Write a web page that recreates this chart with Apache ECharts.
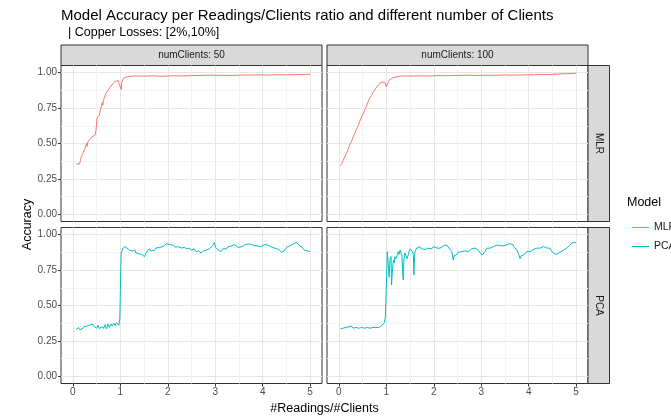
<!DOCTYPE html>
<html>
<head>
<meta charset="utf-8">
<script src="https://cdn.jsdelivr.net/npm/echarts@6/dist/echarts.min.js"></script>
<style>
    html, body { margin: 0; padding: 0; background: #fff; }
    #chart { width: 671px; height: 417px; }
</style>
</head>
<body>
<div id="chart"></div>
<script>
// facets
var colLabels = ["numClients: 50", "numClients: 100"];
var rowLabels = ["MLR", "PCA"];
var xTicks = [0, 1, 2, 3, 4, 5];
var yTicks = [0, 0.25, 0.5, 0.75, 1];

// [readings/clients, accuracy]
var mlr50 = [
    [0.07,0.356],[0.14,0.356],[0.16,0.38],[0.18,0.41],[0.21,0.43],[0.245,0.457],[0.27,0.47],[0.29,0.50],[0.30,0.48],
    [0.316,0.51],[0.35,0.527],[0.38,0.535],[0.42,0.55],[0.45,0.555],[0.47,0.56],[0.49,0.60],[0.51,0.68],[0.54,0.69],
    [0.56,0.70],[0.58,0.74],[0.6,0.76],[0.62,0.79],[0.63,0.77],[0.65,0.81],[0.67,0.83],[0.70,0.855],[0.73,0.87],
    [0.77,0.89],[0.80,0.90],[0.84,0.92],[0.88,0.935],[0.92,0.945],[0.95,0.944],[0.98,0.93],[1.0,0.90],[1.02,0.88],
    [1.03,0.93],[1.05,0.95],[1.08,0.965],[1.12,0.972],[1.2,0.973],[1.3,0.976],[1.5,0.975],[1.7,0.977],[1.9,0.974],
    [2.1,0.978],[2.3,0.976],[2.5,0.979],[2.7,0.98],[2.9,0.982],[3.1,0.981],[3.3,0.98],[3.5,0.982],[3.7,0.983],
    [3.9,0.984],[4.1,0.983],[4.3,0.985],[4.5,0.984],[4.7,0.986],[4.9,0.987],[5.0,0.988]
];
var mlr100 = [
    [0.035,0.344],[0.06,0.36],[0.09,0.38],[0.13,0.41],[0.16,0.43],[0.2,0.465],[0.23,0.49],[0.27,0.52],[0.3,0.545],
    [0.34,0.574],[0.37,0.6],[0.4,0.62],[0.44,0.656],[0.47,0.68],[0.5,0.7],[0.55,0.738],[0.58,0.76],[0.61,0.79],
    [0.65,0.82],[0.69,0.84],[0.72,0.86],[0.76,0.878],[0.8,0.9],[0.83,0.915],[0.865,0.925],[0.9,0.933],[0.935,0.937],
    [0.97,0.93],[0.99,0.92],[1.0,0.9],[1.02,0.89],[1.04,0.93],[1.06,0.948],[1.1,0.958],[1.15,0.965],[1.22,0.97],
    [1.32,0.976],[1.5,0.976],[1.7,0.977],[1.9,0.976],[2.1,0.979],[2.3,0.978],[2.5,0.98],[2.7,0.981],[2.9,0.98],
    [3.1,0.982],[3.3,0.981],[3.5,0.983],[3.7,0.982],[3.9,0.984],[4.1,0.985],[4.3,0.986],[4.5,0.988],[4.7,0.991],
    [4.9,0.994],[5.0,0.995]
];
var pca50 = [
    [0.07,0.33],[0.1,0.335],[0.12,0.345],[0.14,0.33],[0.17,0.34],[0.2,0.335],[0.23,0.35],[0.26,0.34],[0.29,0.355],
    [0.32,0.345],[0.35,0.36],[0.38,0.35],[0.41,0.37],[0.44,0.355],[0.47,0.365],[0.5,0.34],[0.53,0.36],[0.56,0.335],
    [0.59,0.35],[0.62,0.36],[0.65,0.34],[0.68,0.365],[0.71,0.335],[0.74,0.37],[0.77,0.345],[0.8,0.37],[0.83,0.355],
    [0.86,0.375],[0.89,0.36],[0.92,0.38],[0.95,0.39],[0.97,0.36],[0.99,0.41],[1.0,0.59],[1.01,0.78],[1.02,0.87],
    [1.05,0.90],[1.09,0.915],[1.12,0.92],[1.14,0.905],[1.16,0.91],[1.19,0.89],[1.21,0.9],[1.23,0.88],[1.26,0.885],
    [1.29,0.875],[1.31,0.89],[1.33,0.87],[1.36,0.88],[1.39,0.865],[1.42,0.875],[1.45,0.86],[1.48,0.87],[1.51,0.845],
    [1.54,0.87],[1.58,0.88],[1.61,0.9],[1.64,0.885],[1.68,0.895],[1.72,0.89],[1.75,0.905],[1.79,0.895],[1.83,0.91],
    [1.86,0.904],[1.9,0.915],[1.94,0.92],[1.97,0.935],[2.0,0.927],[2.04,0.93],[2.08,0.92],[2.12,0.925],[2.16,0.91],
    [2.21,0.915],[2.25,0.92],[2.3,0.905],[2.35,0.91],[2.4,0.9],[2.45,0.905],[2.5,0.89],[2.55,0.9],[2.6,0.88],
    [2.65,0.885],[2.7,0.87],[2.75,0.885],[2.8,0.89],[2.84,0.89],[2.88,0.9],[2.92,0.915],[2.96,0.93],[2.98,0.945],
    [3.01,0.91],[3.05,0.895],[3.09,0.885],[3.12,0.88],[3.16,0.9],[3.2,0.91],[3.24,0.9],[3.27,0.915],[3.31,0.925],
    [3.35,0.92],[3.4,0.93],[3.44,0.92],[3.48,0.91],[3.52,0.905],[3.56,0.915],[3.6,0.925],[3.64,0.93],[3.68,0.94],
    [3.72,0.935],[3.76,0.93],[3.8,0.925],[3.84,0.93],[3.88,0.92],[3.92,0.925],[3.96,0.915],[4.0,0.92],[4.05,0.93],
    [4.1,0.927],[4.15,0.92],[4.2,0.91],[4.25,0.905],[4.3,0.9],[4.35,0.89],[4.4,0.875],[4.43,0.87],[4.47,0.89],
    [4.5,0.91],[4.53,0.915],[4.57,0.92],[4.61,0.93],[4.65,0.935],[4.69,0.94],[4.72,0.945],[4.75,0.93],[4.79,0.925],
    [4.83,0.91],[4.86,0.9],[4.88,0.89],[4.91,0.9],[4.94,0.885],[4.97,0.89],[5.0,0.88]
];
var pca100 = [
    [0.035,0.335],[0.06,0.345],[0.09,0.34],[0.12,0.35],[0.15,0.345],[0.18,0.34],[0.21,0.35],[0.24,0.345],[0.27,0.355],
    [0.3,0.34],[0.33,0.35],[0.36,0.345],[0.39,0.355],[0.42,0.34],[0.45,0.35],[0.48,0.345],[0.51,0.355],[0.54,0.34],
    [0.57,0.35],[0.6,0.345],[0.63,0.355],[0.66,0.34],[0.69,0.35],[0.72,0.345],[0.75,0.355],[0.78,0.345],[0.81,0.35],
    [0.84,0.345],[0.87,0.355],[0.9,0.357],[0.93,0.36],[0.96,0.38],[0.98,0.42],[1.0,0.63],[1.02,0.88],[1.04,0.8],
    [1.06,0.7],[1.08,0.83],[1.1,0.845],[1.11,0.645],[1.13,0.76],[1.15,0.82],[1.17,0.8],[1.18,0.845],[1.2,0.83],
    [1.22,0.82],[1.24,0.86],[1.25,0.88],[1.27,0.86],[1.29,0.89],[1.31,0.9],[1.33,0.85],[1.35,0.7],[1.36,0.68],
    [1.37,0.82],[1.39,0.87],[1.41,0.86],[1.44,0.83],[1.46,0.855],[1.48,0.88],[1.5,0.9],[1.51,0.905],[1.53,0.89],
    [1.55,0.88],[1.57,0.86],[1.58,0.715],[1.59,0.8],[1.6,0.87],[1.62,0.89],[1.64,0.905],[1.67,0.9],[1.71,0.915],
    [1.74,0.9],[1.78,0.91],[1.82,0.895],[1.85,0.89],[1.88,0.905],[1.92,0.91],[1.96,0.9],[1.99,0.915],[2.03,0.92],
    [2.07,0.905],[2.1,0.91],[2.13,0.904],[2.17,0.915],[2.21,0.92],[2.24,0.925],[2.27,0.927],[2.3,0.915],[2.33,0.9],
    [2.36,0.89],[2.38,0.88],[2.4,0.84],[2.41,0.82],[2.43,0.85],[2.46,0.86],[2.48,0.857],[2.51,0.875],[2.55,0.87],
    [2.59,0.88],[2.62,0.87],[2.66,0.885],[2.7,0.89],[2.73,0.88],[2.76,0.89],[2.8,0.9],[2.84,0.895],[2.87,0.905],
    [2.9,0.904],[2.94,0.89],[2.98,0.87],[3.02,0.855],[3.05,0.845],[3.08,0.88],[3.12,0.904],[3.16,0.91],[3.2,0.905],
    [3.24,0.915],[3.28,0.92],[3.32,0.915],[3.36,0.925],[3.4,0.927],[3.44,0.92],[3.48,0.915],[3.52,0.925],[3.56,0.93],
    [3.6,0.935],[3.64,0.94],[3.67,0.93],[3.7,0.91],[3.73,0.9],[3.75,0.89],[3.78,0.87],[3.8,0.85],[3.82,0.83],
    [3.84,0.85],[3.87,0.86],[3.89,0.857],[3.92,0.87],[3.96,0.88],[4.0,0.875],[4.03,0.88],[4.07,0.89],[4.1,0.895],
    [4.14,0.9],[4.17,0.904],[4.21,0.91],[4.25,0.905],[4.28,0.915],[4.31,0.915],[4.35,0.91],[4.39,0.905],[4.42,0.9],
    [4.45,0.904],[4.48,0.885],[4.52,0.87],[4.55,0.875],[4.58,0.86],[4.62,0.87],[4.66,0.875],[4.7,0.885],[4.73,0.89],
    [4.77,0.9],[4.8,0.905],[4.84,0.915],[4.87,0.925],[4.91,0.94],[4.95,0.935],[5.0,0.946]
];

var chart = echarts.init(document.getElementById("chart"), null, { renderer: "canvas" });

var font = "Liberation Sans, Arial, sans-serif";
var colRed = "#F8766D";
var colCyan = "#00BFC4";
var panelLeft = [61, 327];
var panelTop = [65.5, 227.5];
var panelW = 261;
var panelH = 156;
var stripSize = 20.5;
var major = "#e6e6e6";
var minor = "#f3f3f3";
var none = "rgba(0,0,0,0)";

var grids = [], xAxes = [], yAxes = [], tickX = [], tickY = [], graphics = [];

for (var r = 0; r < 2; r++) {
    for (var c = 0; c < 2; c++) {
        var idx = r * 2 + c;
        grids.push({
            left: panelLeft[c], top: panelTop[r], width: panelW, height: panelH,
            show: true, backgroundColor: "#fff", borderColor: "#333", borderWidth: 1
        });
        // grid lines only (major + minor, cycled over 0.25 / 0.025 steps)
        xAxes.push({
            type: "value", gridIndex: idx, min: -0.25, max: 5.25, interval: 0.25,
            axisLine: { show: false, onZero: false }, axisTick: { show: false }, axisLabel: { show: false },
            splitLine: { show: true, lineStyle: { width: 1, color: [none, major, none, minor] } }
        });
        yAxes.push({
            type: "value", gridIndex: idx, min: -0.05, max: 1.05, interval: 0.025,
            axisLine: { show: false, onZero: false }, axisTick: { show: false }, axisLabel: { show: false },
            splitLine: { show: true, lineStyle: { width: 1, color: [none, none, major, none, none, none, none, minor, none, none] } }
        });
        // ticks and labels
        tickX.push({
            type: "value", gridIndex: idx, min: -0.25, max: 5.25, position: "bottom",
            axisLine: { show: false, onZero: false },
            splitLine: { show: false },
            axisTick: { show: r == 1, customValues: xTicks, length: 3, lineStyle: { color: "#333" } },
            axisLabel: { show: r == 1, customValues: xTicks, color: "#4d4d4d", fontSize: 10, fontFamily: font, margin: 4 }
        });
        tickY.push({
            type: "value", gridIndex: idx, min: -0.05, max: 1.05, position: "left",
            axisLine: { show: false, onZero: false },
            splitLine: { show: false },
            axisTick: { show: c == 0, customValues: yTicks, length: 3, lineStyle: { color: "#333" } },
            axisLabel: {
                show: c == 0, customValues: yTicks, color: "#4d4d4d", fontSize: 10, fontFamily: font, margin: 4,
                formatter: function (v) { return v.toFixed(2); }
            }
        });
    }
}

//strips
colLabels.forEach(function (label, c) {
    graphics.push({
        type: "rect",
        shape: { x: panelLeft[c], y: panelTop[0] - stripSize, width: panelW, height: stripSize },
        style: { fill: "#d9d9d9", stroke: "#333", lineWidth: 1 }
    });
    graphics.push({
        type: "text", x: panelLeft[c] + panelW / 2, y: panelTop[0] - stripSize / 2,
        style: { text: label, fill: "#1a1a1a", font: "10px " + font, align: "center", verticalAlign: "middle" }
    });
});
rowLabels.forEach(function (label, r) {
    var sx = panelLeft[1] + panelW;
    graphics.push({
        type: "rect",
        shape: { x: sx, y: panelTop[r], width: stripSize + 1, height: panelH },
        style: { fill: "#d9d9d9", stroke: "#333", lineWidth: 1 }
    });
    graphics.push({
        type: "text", x: sx + (stripSize + 1) / 2, y: panelTop[r] + panelH / 2, rotation: -Math.PI / 2,
        style: { text: label, fill: "#1a1a1a", font: "10px " + font, align: "center", verticalAlign: "middle" }
    });
});

//titles
graphics.push({
    type: "text", x: 61, y: 16,
    style: { text: "Model Accuracy per Readings/Clients ratio and different number of Clients", fill: "#000", font: "15px " + font, verticalAlign: "middle" }
});
graphics.push({
    type: "text", x: 68, y: 33,
    style: { text: "| Copper Losses: [2%,10%]", fill: "#000", font: "12.5px " + font, verticalAlign: "middle" }
});
graphics.push({
    type: "text", x: 28, y: panelTop[0] + (panelTop[1] + panelH - panelTop[0]) / 2, rotation: Math.PI / 2,
    style: { text: "Accuracy", fill: "#000", font: "12.5px " + font, align: "center", verticalAlign: "middle" }
});
graphics.push({
    type: "text", x: panelLeft[0] + (panelLeft[1] + panelW - panelLeft[0]) / 2, y: 409,
    style: { text: "#Readings/#Clients", fill: "#000", font: "12.5px " + font, align: "center", verticalAlign: "middle" }
});
graphics.push({
    type: "text", x: 627, y: 203,
    style: { text: "Model", fill: "#000", font: "12.5px " + font, verticalAlign: "middle" }
});

function line(name, data, idx, color) {
    return {
        name: name, type: "line", data: data, xAxisIndex: idx, yAxisIndex: idx,
        showSymbol: false, animation: false, lineStyle: { color: color, width: 1 }, itemStyle: { color: color }
    };
}

chart.setOption({
    animation: false,
    grid: grids,
    xAxis: xAxes.concat(tickX),
    yAxis: yAxes.concat(tickY),
    graphic: graphics,
    legend: {
        data: ["MLR", "PCA"], orient: "vertical", left: 627, top: 217, itemGap: 8,
        icon: "rect", itemWidth: 17, itemHeight: 1,
        textStyle: { color: "#1a1a1a", fontSize: 10.5, fontFamily: font }
    },
    series: [
        line("MLR", mlr50, 0, colRed),
        line("MLR", mlr100, 1, colRed),
        line("PCA", pca50, 2, colCyan),
        line("PCA", pca100, 3, colCyan)
    ]
});
</script>
</body>
</html>
